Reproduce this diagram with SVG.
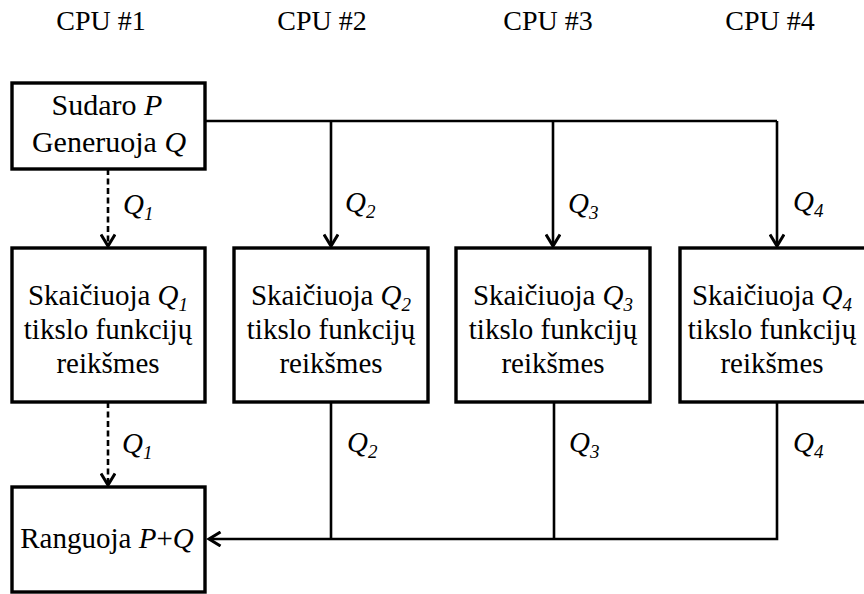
<svg xmlns="http://www.w3.org/2000/svg" width="864" height="594" viewBox="0 0 864 594">
  <style>
    .t { font-family: "Liberation Serif", "Times New Roman", serif; font-size: 29px; text-anchor: middle; fill: #000; }
    .hdr { font-family: "Liberation Serif", "Times New Roman", serif; font-size: 28px; text-anchor: middle; fill: #000; }
    .lbl { font-family: "Liberation Serif", "Times New Roman", serif; font-size: 29px; font-style: italic; fill: #000; }
    .i { font-style: italic; }
    .sub { font-size: 19px; font-style: italic; }
    .box { fill: #fff; stroke: #000; stroke-width: 3.4; }
    .ln { fill: none; stroke: #000; stroke-width: 2.6; }
    .dash { stroke-dasharray: 6 3.5; }
  </style>
  <defs>
    <marker id="chev" markerUnits="userSpaceOnUse" viewBox="0 0 16 16" markerWidth="16" markerHeight="16" refX="13" refY="8" orient="auto">
      <path d="M1.5,1 L13,8 L1.5,15" fill="none" stroke="#000" stroke-width="3"/>
    </marker>
  </defs>

  <!-- column headers -->
  <g id="headers">
    <text class="hdr" x="101" y="30">CPU #1</text>
    <text class="hdr" x="322" y="30">CPU #2</text>
    <text class="hdr" x="548" y="30">CPU #3</text>
    <text class="hdr" x="770" y="30">CPU #4</text>
  </g>

  <!-- connectors and their labels -->
  <g id="connectors">
    <path class="ln" d="M205,121 H777"/>
    <path class="ln" d="M331,121 V246" marker-end="url(#chev)"/>
    <path class="ln" d="M553,121 V246" marker-end="url(#chev)"/>
    <path class="ln" d="M777,121 V246" marker-end="url(#chev)"/>
    <path class="ln dash" d="M108,169 V246" marker-end="url(#chev)"/>
    <path class="ln dash" d="M108,402 V485" marker-end="url(#chev)"/>
    <path class="ln" d="M331,402 V539"/>
    <path class="ln" d="M554,402 V539"/>
    <path class="ln" d="M777,402 V539 H209" marker-end="url(#chev)"/>

    <text class="lbl" x="123" y="214">Q<tspan class="sub" dy="6">1</tspan></text>
    <text class="lbl" x="345" y="212">Q<tspan class="sub" dy="6">2</tspan></text>
    <text class="lbl" x="568" y="213">Q<tspan class="sub" dy="6">3</tspan></text>
    <text class="lbl" x="793" y="211">Q<tspan class="sub" dy="6">4</tspan></text>
    <text class="lbl" x="122" y="453">Q<tspan class="sub" dy="6">1</tspan></text>
    <text class="lbl" x="347" y="452">Q<tspan class="sub" dy="6">2</tspan></text>
    <text class="lbl" x="569" y="452">Q<tspan class="sub" dy="6">3</tspan></text>
    <text class="lbl" x="793" y="452">Q<tspan class="sub" dy="6">4</tspan></text>
  </g>

  <!-- CPU #1: build P, generate Q -->
  <g id="gen">
    <rect class="box" x="12" y="83" width="193" height="86"/>
    <text class="t" x="107" y="115" style="font-size:30px">Sudaro <tspan class="i">P</tspan></text>
    <text class="t" x="109" y="152" style="font-size:30px">Generuoja <tspan class="i">Q</tspan></text>
  </g>

  <!-- objective evaluation on each CPU -->
  <g id="eval1">
    <rect class="box" x="12" y="248" width="193" height="154"/>
    <text class="t" x="108" y="305">Skaičiuoja <tspan class="i">Q</tspan><tspan class="sub" dy="6">1</tspan></text>
    <text class="t" x="108" y="339">tikslo funkcijų</text>
    <text class="t" x="108" y="373">reikšmes</text>
  </g>
  <g id="eval2">
    <rect class="box" x="234" y="248" width="194" height="154"/>
    <text class="t" x="331" y="305">Skaičiuoja <tspan class="i">Q</tspan><tspan class="sub" dy="6">2</tspan></text>
    <text class="t" x="331" y="339">tikslo funkcijų</text>
    <text class="t" x="331" y="373">reikšmes</text>
  </g>
  <g id="eval3">
    <rect class="box" x="456" y="248" width="194" height="154"/>
    <text class="t" x="553" y="305">Skaičiuoja <tspan class="i">Q</tspan><tspan class="sub" dy="6">3</tspan></text>
    <text class="t" x="553" y="339">tikslo funkcijų</text>
    <text class="t" x="553" y="373">reikšmes</text>
  </g>
  <g id="eval4">
    <rect class="box" x="680" y="248" width="194" height="154"/>
    <text class="t" x="772" y="305">Skaičiuoja <tspan class="i">Q</tspan><tspan class="sub" dy="6">4</tspan></text>
    <text class="t" x="772" y="339">tikslo funkcijų</text>
    <text class="t" x="772" y="373">reikšmes</text>
  </g>

  <!-- CPU #1: ranking -->
  <g id="rank">
    <rect class="box" x="12" y="487" width="193" height="105"/>
    <text class="t" x="107" y="548">Ranguoja <tspan class="i">P</tspan>+<tspan class="i">Q</tspan></text>
  </g>
</svg>
